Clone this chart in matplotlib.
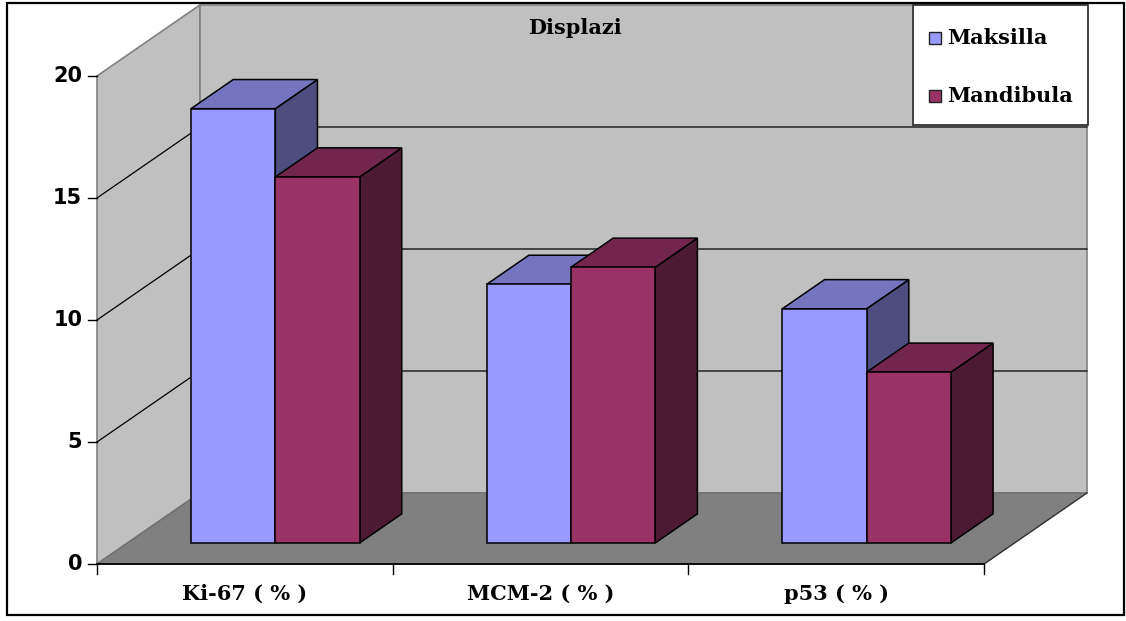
import matplotlib.pyplot as plt
from matplotlib.patches import Polygon, Rectangle

# data
categories = ['Ki-67 ( % )', 'MCM-2 ( % )', 'p53 ( % )']
series_names = ['Maksilla', 'Mandibula']
maksilla = [17.8, 10.6, 9.6]
mandibula = [15.0, 11.3, 7.0]
y_ticks = [0, 5, 10, 15, 20]
title = 'Displazi'

# face colours: front, top, side
colors = {
    'Maksilla': ('#9999FF', '#7575BF', '#4D4D80'),
    'Mandibula': ('#993366', '#73264D', '#4D1A33'),
}

W, H = 1126, 621
fig = plt.figure(figsize=(W / 100, H / 100), dpi=100)
fig.patch.set_facecolor('white')

def fx(px):
    return px / W

def fy(py):
    return 1 - py / H

# front plane of the 3d box
ax = fig.add_axes([fx(97), fy(564), fx(984) - fx(97), fy(76) - fy(564)])
ax.set_xlim(0, 3)
ax.set_ylim(0, 20)
ax.axis('off')

# oblique depth offset in data units
DX = 0.348
DY = 2.91
ncat = len(categories)
ymax = y_ticks[-1]

def poly(pts, fc, ec, lw=1.0, z=1):
    ax.add_patch(Polygon(pts, closed=True, facecolor=fc, edgecolor=ec,
                         linewidth=lw, zorder=z, clip_on=False,
                         joinstyle='miter'))

# walls and floor
poly([(0, 0), (DX, DY), (DX, ymax + DY), (0, ymax)], '#C0C0C0', '#808080', 1.2, 1)
poly([(DX, DY), (ncat + DX, DY), (ncat + DX, ymax + DY), (DX, ymax + DY)],
     '#C0C0C0', '#808080', 1.2, 1)
poly([(0, 0), (ncat, 0), (ncat + DX, DY), (DX, DY)], '#808080', '#707070', 1.0, 2)

# gridlines on side and back walls
for v in y_ticks[1:-1]:
    ax.plot([0, DX, ncat + DX], [v, v + DY, v + DY], color='black', lw=0.9,
            zorder=2, clip_on=False)

# axis lines and ticks
ax.plot([0, ncat], [0, 0], color='black', lw=1.3, zorder=3, clip_on=False)
ax.plot([ncat, ncat + DX], [0, DY], color='#333333', lw=0.9, zorder=3, clip_on=False)
tick_dx = 9 / 295.8
tick_dy = 10 / 24.4
for v in y_ticks:
    ax.plot([-tick_dx, 0], [v, v], color='black', lw=1.0, zorder=3, clip_on=False)
    ax.text(-0.05, v, str(v), ha='right', va='center', fontsize=15,
            fontweight='bold', family='DejaVu Sans')
for i in range(ncat + 1):
    ax.plot([i, i], [0, -tick_dy], color='black', lw=1.0, zorder=3, clip_on=False)
for i, cat in enumerate(categories):
    ax.text(i + 0.5, -1.24, cat, ha='center', va='center', fontsize=15,
            fontweight='bold', family='DejaVu Serif')

# 3d columns
bar_w = 0.285
d0, d1 = 0.296, 0.706
for i in range(ncat):
    for j, (name, vals) in enumerate(zip(series_names, [maksilla, mandibula])):
        front, top, side = colors[name]
        x0 = i + 0.5 - bar_w + j * bar_w
        x1 = x0 + bar_w
        h = vals[i]
        ox0, oy0 = d0 * DX, d0 * DY
        ox1, oy1 = d1 * DX, d1 * DY
        z = 5 + i * 2 + j
        # right side
        poly([(x1 + ox0, oy0), (x1 + ox1, oy1), (x1 + ox1, h + oy1), (x1 + ox0, h + oy0)],
             side, 'black', 1.1, z)
        # top
        poly([(x0 + ox0, h + oy0), (x1 + ox0, h + oy0), (x1 + ox1, h + oy1), (x0 + ox1, h + oy1)],
             top, 'black', 1.1, z)
        # front
        poly([(x0 + ox0, oy0), (x1 + ox0, oy0), (x1 + ox0, h + oy0), (x0 + ox0, h + oy0)],
             front, 'black', 1.1, z)

# title
fig.text(fx(575), fy(28), title, ha='center', va='center', fontsize=15,
         fontweight='bold', family='DejaVu Serif')

# legend box
fig.patches.append(Rectangle((fx(913), fy(125)), fx(1088) - fx(913), fy(5) - fy(125),
                             transform=fig.transFigure, facecolor='white',
                             edgecolor='#333333', linewidth=1.3, zorder=10))
for k, (name, ypx) in enumerate(zip(series_names, [38, 96])):
    fig.patches.append(Rectangle((fx(929), fy(ypx + 6)), fx(12), 12 / H,
                                 transform=fig.transFigure, facecolor=colors[name][0],
                                 edgecolor='#222222', linewidth=1.0, zorder=11))
    fig.text(fx(947), fy(ypx), name, ha='left', va='center', fontsize=15,
             fontweight='bold', family='DejaVu Serif', zorder=12)

# outer frame
fig.patches.append(Rectangle((fx(7), fy(615)), fx(1124) - fx(7), fy(3) - fy(615),
                             transform=fig.transFigure, facecolor='none',
                             edgecolor='black', linewidth=1.6, zorder=20))

fig.savefig('out.png', dpi=100)
